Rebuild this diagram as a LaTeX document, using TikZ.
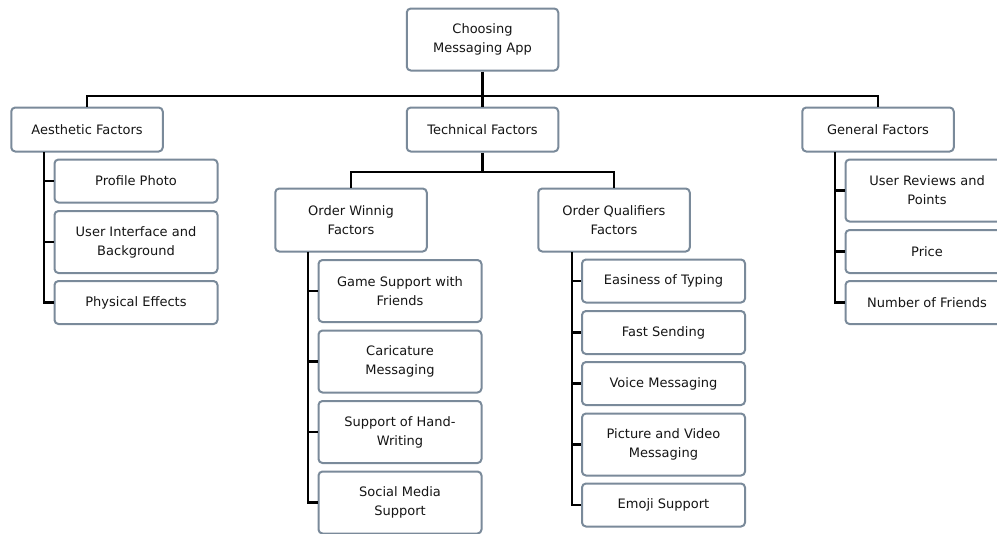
\documentclass[tikz,border=0pt]{standalone}
\usepackage{fontspec}
\setmainfont{DejaVu Sans}
\definecolor{boxline}{HTML}{7A8A9A}
\definecolor{txt}{HTML}{151515}
\tikzset{
  box/.style={draw=boxline, line width=1.5pt, rounded corners=3pt, fill=white,
    align=center, inner sep=0pt, text=txt,
    font={\fontsize{9.75}{14.25}\selectfont}},
  lv/.style={box, minimum width=151.5*0.75pt},
  leaf/.style={box, minimum width=163*0.75pt},
  one/.style={minimum height=43*0.75pt},
  two/.style={minimum height=62*0.75pt},
  conn/.style={draw=black, line width=1.8pt}
}
\begin{document}
\begin{tikzpicture}[x=0.75pt,y=-0.75pt]
\useasboundingbox (0,0) rectangle (997,533);
\fill[white] (0,0) rectangle (997,533);
\clip (0,0) rectangle (997,533);

% level 0 and 1
\node[lv, two] (root) at (482.5,39.5) {Choosing\\Messaging App};
\node[lv, minimum height=44*0.75pt] (aes) at (87,129.5) {Aesthetic Factors};
\node[lv, minimum height=44*0.75pt] (tech) at (482.5,129.5) {Technical Factors};
\node[lv, minimum height=44*0.75pt] (gen) at (878,129.5) {General Factors};

% level 2
\node[lv, minimum height=63*0.75pt] (win) at (351,220) {Order Winnig\\Factors};
\node[lv, minimum height=63*0.75pt] (qual) at (614,220) {Order Qualifiers\\Factors};

% aesthetic leaves
\node[leaf, one] (a1) at (136,181) {Profile Photo};
\node[leaf, two] (a2) at (136,242) {User Interface and\\Background};
\node[leaf, one] (a3) at (136,302.5) {Physical Effects};

% general leaves
\node[leaf, two] (g1) at (927,190.5) {User Reviews and\\Points};
\node[leaf, one] (g2) at (927,251.5) {Price};
\node[leaf, one] (g3) at (927,302.5) {Number of Friends};

% order winning leaves
\node[leaf, two] (w1) at (400,291) {Game Support with\\Friends};
\node[leaf, two] (w2) at (400,361.5) {Caricature\\Messaging};
\node[leaf, two] (w3) at (400,432) {Support of Hand-\\Writing};
\node[leaf, two] (w4) at (400,502.5) {Social Media\\Support};

% order qualifiers leaves
\node[leaf, one] (q1) at (663.5,281) {Easiness of Typing};
\node[leaf, one] (q2) at (663.5,332.5) {Fast Sending};
\node[leaf, one] (q3) at (663.5,383.5) {Voice Messaging};
\node[leaf, two] (q4) at (663.5,444.5) {Picture and Video\\Messaging};
\node[leaf, one] (q5) at (663.5,505) {Emoji Support};

% connector anchors
\coordinate (bus) at (482.5,96);
\coordinate (bus2) at (482.5,172);
\coordinate (sa) at (44,152);
\coordinate (sw) at (308,252);
\coordinate (sq) at (572,252);
\coordinate (sg) at (835,152);

\draw[conn] (root.south) -- (bus);
\draw[conn] (aes.north) |- (bus) -| (gen.north);
\draw[conn] (bus) -- (tech.north);
\draw[conn] (tech.south) -- (bus2);
\draw[conn] (win.north) |- (bus2) -| (qual.north);
\foreach \c in {a1,a2,a3} \draw[conn] (sa) |- (\c.west);
\foreach \c in {g1,g2,g3} \draw[conn] (sg) |- (\c.west);
\foreach \c in {w1,w2,w3,w4} \draw[conn] (sw) |- (\c.west);
\foreach \c in {q1,q2,q3,q4,q5} \draw[conn] (sq) |- (\c.west);
\end{tikzpicture}
\end{document}
